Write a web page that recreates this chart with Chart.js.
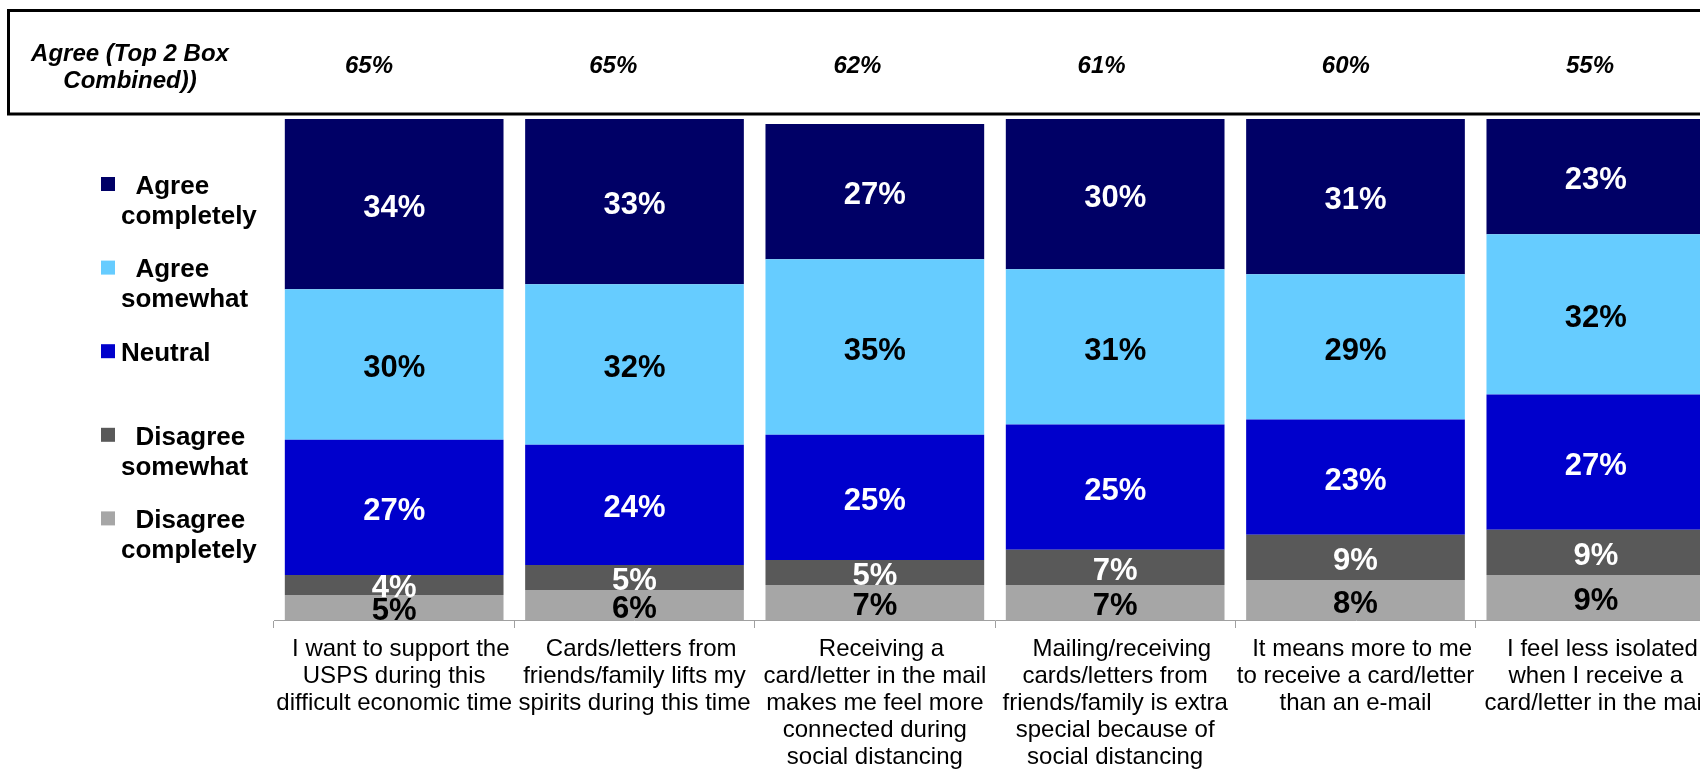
<!DOCTYPE html>
<html><head><meta charset="utf-8">
<script src="https://cdn.jsdelivr.net/npm/chart.js@4.4.1/dist/chart.umd.min.js"></script>
<style>
html,body{margin:0;padding:0;background:#fff;overflow:hidden;width:1700px;height:771px;}
#wrap{position:relative;width:1730px;height:771px;}
</style></head><body>
<div id="wrap"><canvas id="c"></canvas></div>
<script>
const categories = [
  ['  I want to support the','USPS during this','difficult economic time'],
  ['  Cards/letters from','friends/family lifts my','spirits during this time'],
  ['  Receiving a','card/letter in the mail','makes me feel more','connected during','social distancing'],
  ['  Mailing/receiving','cards/letters from','friends/family is extra','special because of','social distancing'],
  ['  It means more to me','to receive a card/letter','than an e-mail'],
  ['  I feel less isolated','when I receive a','card/letter in the mail']
];
const top2BoxTitle = ['Agree (Top 2 Box', 'Combined))'];
const top2Box = [65, 65, 62, 61, 60, 55];
const agreeCompletely = [34, 33, 27, 30, 31, 23];
const agreeSomewhat = [30, 32, 35, 31, 29, 32];
const neutral = [27, 24, 25, 25, 23, 27];
const disagreeSomewhat = [4, 5, 5, 7, 9, 9];
const disagreeCompletely = [5, 6, 7, 7, 8, 9];
const seriesNames = ['Agree completely', 'Agree somewhat', 'Neutral', 'Disagree somewhat', 'Disagree completely'];
const legendLines = [['  Agree', 'completely'], ['  Agree', 'somewhat'], ['Neutral'], ['  Disagree', 'somewhat'], ['  Disagree', 'completely']];
const seriesValues = [agreeCompletely, agreeSomewhat, neutral, disagreeSomewhat, disagreeCompletely];
const colors = ['#000066', '#66CCFF', '#0000CC', '#595959', '#A6A6A6'];
const labelColors = ['#ffffff', '#000000', '#ffffff', '#ffffff', '#000000'];

const FONT = "'Liberation Sans', Arial, Helvetica, sans-serif";

// stacking: first dataset at bottom
const datasets = [];
for (let i = seriesNames.length - 1; i >= 0; i--) {
  datasets.push({
    label: seriesNames[i],
    data: seriesValues[i],
    backgroundColor: colors[i],
    labelColor: labelColors[i],
    legendIndex: i,
    borderWidth: 0,
    barPercentage: 0.91,
    categoryPercentage: 1.0
  });
}

const topBoxPlugin = {
  id: 'topBox',
  beforeDraw(chart) {
    const ctx = chart.ctx;
    ctx.save();
    ctx.strokeStyle = '#000';
    ctx.lineWidth = 3;
    ctx.strokeRect(8.5, 10.5, 1800, 103.5);
    ctx.fillStyle = '#000';
    ctx.textAlign = 'center';
    ctx.textBaseline = 'alphabetic';
    ctx.font = 'italic bold 24px ' + FONT;
    ctx.fillText(top2BoxTitle[0], 130, 52 + 8.5);
    ctx.fillText(top2BoxTitle[1], 130, 79 + 8.5);
    top2Box.forEach((v, i) => {
      ctx.fillText(v + '%', 369 + i * 244.2, 64 + 8.5);
    });
    ctx.restore();
  }
};

const legendPlugin = {
  id: 'sideLegend',
  afterDraw(chart) {
    const ctx = chart.ctx;
    ctx.save();
    ctx.font = 'bold 26px ' + FONT;
    ctx.textAlign = 'left';
    ctx.textBaseline = 'alphabetic';
    seriesNames.forEach((name, i) => {
      const yc = 184 + i * 83.6;
      ctx.fillStyle = colors[i];
      ctx.fillRect(101, yc - 7, 14, 14);
      ctx.fillStyle = '#000';
      legendLines[i].forEach((line, j) => {
        ctx.fillText(line, 121, yc + 9.8 + j * 30);
      });
    });
    ctx.restore();
  }
};

const valueLabelPlugin = {
  id: 'valueLabels',
  afterDatasetsDraw(chart) {
    const ctx = chart.ctx;
    ctx.save();
    ctx.font = 'bold 31px ' + FONT;
    ctx.textAlign = 'center';
    ctx.textBaseline = 'middle';
    chart.data.datasets.forEach((ds, di) => {
      const meta = chart.getDatasetMeta(di);
      ctx.fillStyle = ds.labelColor;
      meta.data.forEach((bar, idx) => {
        const v = ds.data[idx];
        const cy = (bar.y + bar.base) / 2;
        ctx.fillText(v + '%', bar.x, cy + 4);
      });
    });
    ctx.restore();
  }
};

new Chart(document.getElementById('c'), {
  type: 'bar',
  data: { labels: categories, datasets },
  options: {
    responsive: true,
    maintainAspectRatio: false,
    animation: false,
    layout: { padding: { left: 274, right: 14, top: 119, bottom: 0 } },
    plugins: { legend: { display: false }, tooltip: { enabled: false } },
    scales: {
      x: {
        stacked: true,
        grid: { offset: true, drawOnChartArea: false, drawTicks: true, tickLength: 8, color: '#a0a0a0', lineWidth: 1 },
        border: { display: true, color: '#a0a0a0', width: 1 },
        ticks: {
          color: '#000',
          font: { family: FONT, size: 24, lineHeight: 27 / 24 },
          padding: 8,
          maxRotation: 0,
          minRotation: 0,
          autoSkip: false
        },
        afterFit(scale) { scale.height = 151; }
      },
      y: {
        stacked: true,
        display: false,
        min: 0,
        max: 100
      }
    }
  },
  plugins: [topBoxPlugin, valueLabelPlugin, legendPlugin]
});
</script>
</body></html>
